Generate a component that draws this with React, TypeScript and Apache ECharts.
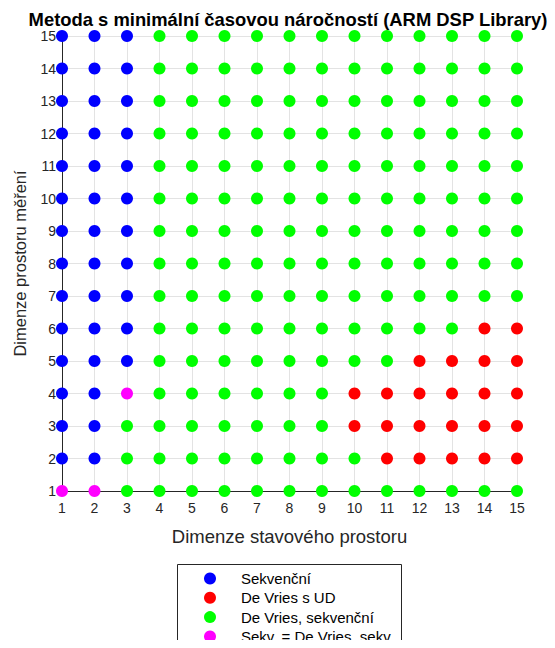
import React, { useEffect, useRef } from "react";
import * as echarts from "echarts";

const seriesNames = ["Sekvenční", "De Vries s UD", "De Vries, sekvenční", "Sekv. = De Vries, sekv."];
const seriesColors = ["#0000ff", "#ff0000", "#00ff00", "#ff00ff"];
const codes = ["B", "R", "G", "M"];
const xValues = [1, 2, 3, 4, 5, 6, 7, 8, 9, 10, 11, 12, 13, 14, 15];
// rows from y = 15 (top) down to y = 1 (bottom); one character per x = 1..15
const yRowsTopDown = [15, 14, 13, 12, 11, 10, 9, 8, 7, 6, 5, 4, 3, 2, 1];
const cellMethod = [
  "BBBGGGGGGGGGGGG",
  "BBBGGGGGGGGGGGG",
  "BBBGGGGGGGGGGGG",
  "BBBGGGGGGGGGGGG",
  "BBBGGGGGGGGGGGG",
  "BBBGGGGGGGGGGGG",
  "BBBGGGGGGGGGGGG",
  "BBBGGGGGGGGGGGG",
  "BBBGGGGGGGGGGGG",
  "BBBGGGGGGGGGGRR",
  "BBBGGGGGGGGRRRR",
  "BBMGGGGGGRRRRRR",
  "BBGGGGGGGRRRRRR",
  "BBGGGGGGGGRRRRR",
  "MMGGGGGGGGGGGGG",
];

const FONT = "'Liberation Sans', Arial, sans-serif";
const TXT = "#262626";

export default function App() {
  const ref = useRef<HTMLDivElement>(null);
  useEffect(() => {
    if (!ref.current) return;
    const chart = echarts.init(ref.current, null, { renderer: "svg" });
    const series = codes.map((code, ci) => {
      const data: number[][] = [];
      yRowsTopDown.forEach((y, ri) => {
        xValues.forEach((x, xi) => {
          if (cellMethod[ri][xi] === code) data.push([x, y]);
        });
      });
      return {
        name: seriesNames[ci],
        type: "scatter",
        symbol: "circle",
        symbolSize: 12,
        itemStyle: { color: seriesColors[ci], opacity: 1 },
        data,
        z: 3,
      };
    });
    chart.setOption({
      animation: false,
      textStyle: { fontFamily: FONT },
      graphic: [
        {
          type: "text",
          x: 288,
          y: 19,
          style: {
            text: "Metoda s minimální časovou náročností (ARM DSP Library)",
            align: "center",
            verticalAlign: "middle",
            fontFamily: FONT,
            fontSize: 18.4,
            fontWeight: "bold",
            fill: "#000",
          },
          z: 10,
        },
        {
          type: "rect",
          shape: { x: 177.5, y: 564.5, width: 224, height: 110 },
          style: { fill: "#fff", stroke: TXT, lineWidth: 1 },
          z: -1,
          silent: true,
        },
      ],
      grid: { left: 62, width: 455, top: 36, height: 455, containLabel: false },
      xAxis: {
        type: "value",
        min: 1,
        max: 15,
        interval: 1,
        name: "Dimenze stavového prostoru",
        nameLocation: "middle",
        nameGap: 36,
        nameTextStyle: { fontFamily: FONT, fontSize: 18.5, color: TXT },
        axisLine: { show: true, lineStyle: { color: TXT, width: 1 } },
        axisTick: { show: false },
        axisLabel: { fontFamily: FONT, fontSize: 14, color: TXT, margin: 10 },
        splitLine: { show: true, lineStyle: { color: "#e3e3e3", width: 1 } },
      },
      yAxis: {
        type: "value",
        min: 1,
        max: 15,
        interval: 1,
        name: "Dimenze prostoru měření",
        nameLocation: "middle",
        nameGap: 34,
        nameRotate: 90,
        nameTextStyle: { fontFamily: FONT, fontSize: 16.5, color: TXT },
        axisLine: { show: true, lineStyle: { color: TXT, width: 1 } },
        axisTick: { show: false },
        axisLabel: { fontFamily: FONT, fontSize: 14, color: TXT, margin: 6 },
        splitLine: { show: true, lineStyle: { color: "#e3e3e3", width: 1 } },
      },
      legend: {
        orient: "vertical",
        left: 204,
        top: 571,
        padding: 0,
        icon: "circle",
        itemWidth: 12,
        itemHeight: 12,
        itemGap: 4.3,
        textStyle: { fontFamily: FONT, fontSize: 15, color: "#000", padding: [0, 0, 0, 20] },
        data: seriesNames,
      },
      series,
    });
    return () => chart.dispose();
  }, []);
  return (
    <div style={{ width: 555, height: 648, margin: -8, overflow: "hidden", position: "relative" }}>
      <div ref={ref} style={{ width: 555, height: 680 }} />
    </div>
  );
}
